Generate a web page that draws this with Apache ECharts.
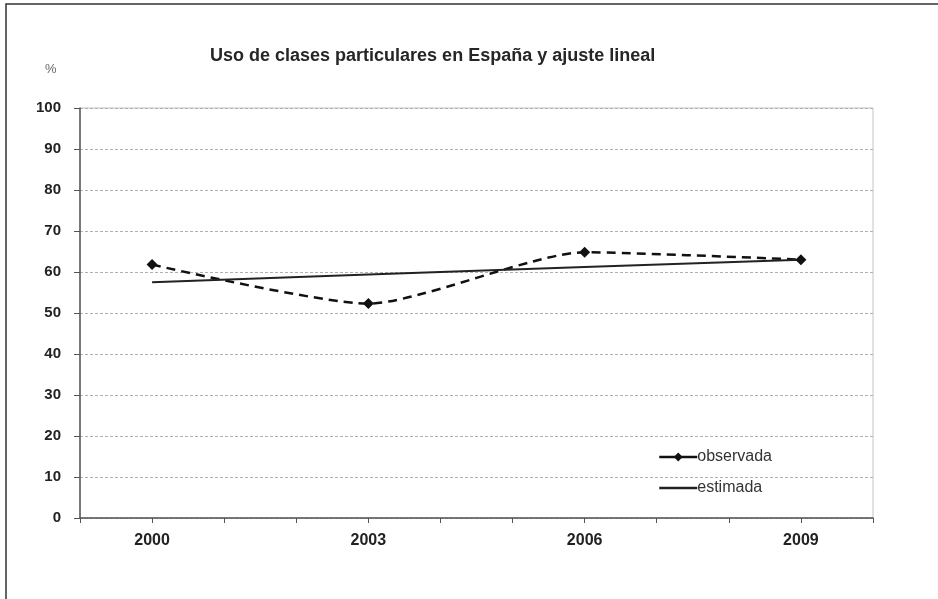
<!DOCTYPE html>
<html>
<head>
<meta charset="utf-8">
<script src="https://cdn.jsdelivr.net/npm/echarts@6/dist/echarts.min.js"></script>
<style>
  html, body { margin: 0; padding: 0; background: #fff; }
  #chart { width: 938px; height: 599px; }
</style>
</head>
<body>
<div id="chart"></div>
<script>
// Survey years and shares (%)
const years = [2000, 2003, 2006, 2009];
const observada = [61.8, 52.3, 64.8, 63.0];
const estimada = [57.5, 59.4, 61.2, 63.0];
const labelledYears = [2000, 2003, 2006, 2009];
const yTicks = [0, 10, 20, 30, 40, 50, 60, 70, 80, 90, 100];

const FONT = '"Liberation Sans", Arial, sans-serif';

const chart = echarts.init(document.getElementById('chart'));
chart.setOption({
  backgroundColor: '#fff',
  animation: false,
  title: {
    text: 'Uso de clases particulares en España y ajuste lineal',
    left: 205,
    top: 42,
    textStyle: { fontFamily: FONT, fontSize: 18, fontWeight: 'bold', color: '#262626' }
  },
  graphic: [
    {
      type: 'rect',
      shape: { x: 6, y: 4, width: 960, height: 620 },
      style: { fill: 'none', stroke: '#333', lineWidth: 1.5 },
      silent: true
    },
    {
      type: 'text',
      left: 45,
      top: 63,
      style: { text: '%', fontFamily: FONT, fontSize: 13, fill: '#666' }
    }
  ],
  legend: {
    orient: 'vertical',
    left: 653,
    top: 444,
    itemWidth: 38,
    itemHeight: 11,
    itemGap: 15,
    textStyle: { fontFamily: FONT, fontSize: 16, color: '#333', padding: [0, 0, 0, -5] },
    lineStyle: { type: 'solid', width: 2.5 },
    data: [
      { name: 'observada' },
      { name: 'estimada', itemStyle: { color: 'rgba(0,0,0,0)', borderWidth: 0, opacity: 0 } }
    ]
  },
  grid: {
    left: 80, right: 65, top: 108, bottom: 81,
    show: true, borderColor: '#c4c4c4', borderWidth: 1
  },
  xAxis: {
    type: 'value',
    min: 1999,
    max: 2010,
    interval: 1,
    axisLine: { show: true, lineStyle: { color: '#555', width: 1.5 } },
    axisTick: { show: true, length: 5, lineStyle: { color: '#555' } },
    splitLine: { show: false },
    axisLabel: {
      margin: 15,
      fontFamily: FONT, fontSize: 16, fontWeight: 'bold', color: '#222',
      formatter: v => labelledYears.includes(v) ? String(v) : ''
    }
  },
  yAxis: {
    type: 'value',
    min: yTicks[0],
    max: yTicks[yTicks.length - 1],
    interval: 10,
    axisLine: { show: true, lineStyle: { color: '#555', width: 1.5 } },
    axisTick: { show: true, length: 6, lineStyle: { color: '#555' } },
    splitLine: { show: true, lineStyle: { color: '#b0b0b0', type: [3, 2], width: 1 } },
    axisLabel: {
      margin: 19,
      fontFamily: FONT, fontSize: 15, fontWeight: 'bold', color: '#222'
    }
  },
  series: [
    {
      name: 'observada',
      type: 'line',
      smooth: 0.22,
      data: years.map((y, i) => [y, observada[i]]),
      symbol: 'diamond',
      symbolSize: 11,
      itemStyle: { color: '#111' },
      lineStyle: { color: '#111', width: 2.5, type: [9, 6] }
    },
    {
      name: 'estimada',
      type: 'line',
      data: years.map((y, i) => [y, estimada[i]]),
      symbol: 'none',
      itemStyle: { color: '#222' },
      lineStyle: { color: '#222', width: 2 }
    }
  ]
});
</script>
</body>
</html>
